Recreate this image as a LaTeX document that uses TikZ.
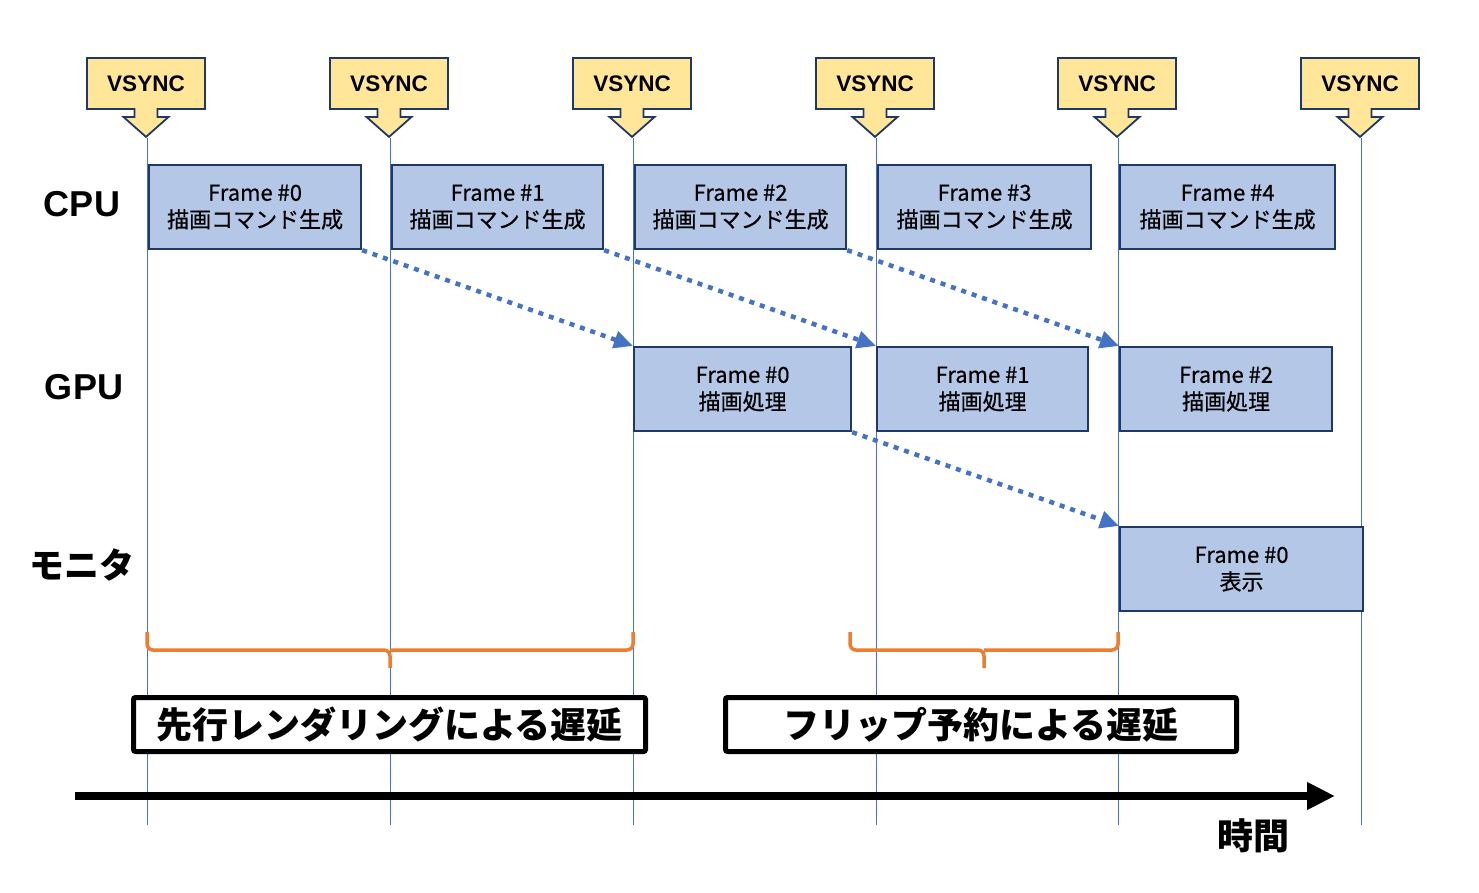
\documentclass[tikz,border=0pt]{standalone}
\usepackage{fontspec}
\setmainfont{Noto Sans CJK JP}
\newfontfamily\latinfont{Liberation Sans}
\newfontfamily\medfont[FakeBold=0.5]{Noto Sans CJK JP}
\usetikzlibrary{shapes.arrows,arrows.meta}
\definecolor{navy}{HTML}{1F3864}
\definecolor{vsyncyellow}{HTML}{FFE699}
\definecolor{boxblue}{HTML}{B4C7E7}
\definecolor{lineblue}{HTML}{4472C4}
\definecolor{braceorange}{HTML}{ED7D31}

\begin{document}
\begin{tikzpicture}[x=1pt,y=-1pt,>=Stealth,semithick]
\tikzstyle{vsync}=[draw=navy,line width=1.8pt,fill=vsyncyellow,text=black,
  arrow box,arrow box arrows={south:27pt from border},arrow box shaft width=23pt,
  arrow box head extend=11pt,arrow box head indent=0pt,arrow box tip angle=97,
  minimum width=118pt,minimum height=51pt,inner sep=0pt,
  font=\latinfont\fontsize{22.5}{26}\selectfont\bfseries]
\tikzstyle{vline}=[lineblue,line width=0.9pt]
\tikzstyle{frame}=[draw=navy,line width=2.2pt,fill=boxblue,anchor=north west,
  minimum height=84pt,align=center,inner sep=0pt,
  font=\medfont\fontsize{22}{27}\selectfont]
\tikzstyle{rowlabel}=[font=\latinfont\fontsize{36}{40}\selectfont\bfseries]
\tikzstyle{flow}=[->,lineblue,line width=4.5pt,dash pattern=on 5pt off 6pt,
  -{Triangle[length=19pt,width=17pt]}]
\tikzstyle{orangebrace}=[braceorange,line width=3.5pt,rounded corners=6pt]
\tikzstyle{delay}=[draw=black,line width=5pt,rounded corners=2pt,fill=white,
  minimum height=54pt,inner sep=0pt,font=\fontsize{36}{40}\selectfont\bfseries]

\useasboundingbox (0,0) rectangle (1479,893);

\foreach \i/\x in {0/147,1/390,2/633,3/876,4/1118,5/1361}{
  \coordinate (t\i) at (\x,138);
  \coordinate (b\i) at (\x,825);
  \draw[vline] (t\i) -- (b\i);
  \node[vsync] (v\i) at (\x-1,83.5) {VSYNC};
}

\node[rowlabel] (cpu) at (82,204) {CPU};
\node[rowlabel] (gpu) at (84,387) {GPU};
\node[rowlabel,font=\fontsize{35}{40}\selectfont\bfseries] (mon) at (82,565) {モニタ};

\node[frame,minimum width=212pt] (c0) at (148,164) {Frame \#0\\描画コマンド生成};
\node[frame,minimum width=211pt] (c1) at (391,164) {Frame \#1\\描画コマンド生成};
\node[frame,minimum width=211pt] (c2) at (634,164) {Frame \#2\\描画コマンド生成};
\node[frame,minimum width=213pt] (c3) at (877,164) {Frame \#3\\描画コマンド生成};
\node[frame,minimum width=215pt] (c4) at (1119,164) {Frame \#4\\描画コマンド生成};

\node[frame,minimum width=217pt] (g0) at (633,346) {Frame \#0\\描画処理};
\node[frame,minimum width=211pt] (g1) at (876,346) {Frame \#1\\描画処理};
\node[frame,minimum width=212pt] (g2) at (1119,346) {Frame \#2\\描画処理};

\node[frame,minimum width=243pt] (m0) at (1119,526) {Frame \#0\\表示};

\draw[flow] (c0.south east) -- (g0.north west);
\draw[flow] (c1.south east) -- (g1.north west);
\draw[flow] (c2.south east) -- (g2.north west);
\draw[flow] (g0.south east) -- (m0.north west);

\draw[orangebrace] (147,632) |- (390,650) -- (390,668);
\draw[orangebrace] (390,650) -| (633,632);
\draw[orangebrace] (850,632) |- (984,650) -- (984,668);
\draw[orangebrace] (984,650) -| (1118,632);

\node[delay,minimum width=512pt] (lag0) at (389.5,724.5) {先行レンダリングによる遅延};
\node[delay,minimum width=511pt] (lag1) at (981,724.5) {フリップ予約による遅延};

\coordinate (ts) at (75,796);
\coordinate (te) at (1335,796);
\draw[line width=8pt,-{Triangle[length=28pt,width=26pt]}] (ts) -- (te);
\node[font=\fontsize{36}{40}\selectfont\bfseries] (time) at (1253,836) {時間};

\end{tikzpicture}
\end{document}
